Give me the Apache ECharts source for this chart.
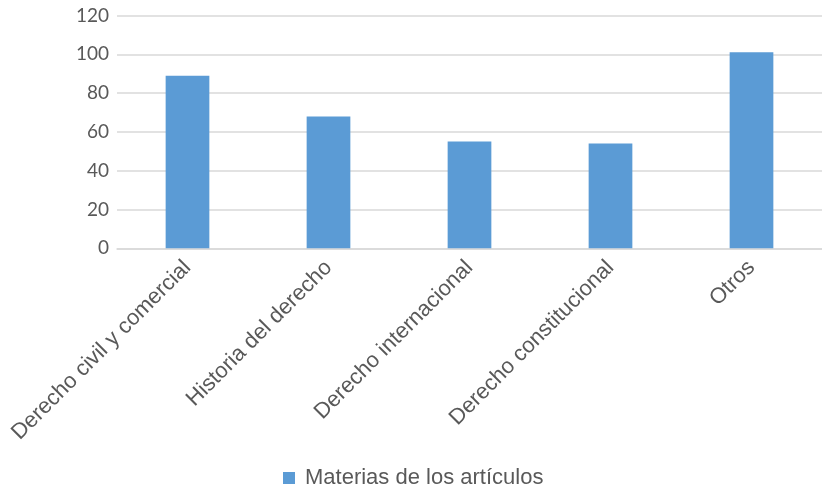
<!DOCTYPE html>
<html><head><meta charset="utf-8">
<script src="https://cdn.jsdelivr.net/npm/echarts@6/dist/echarts.min.js"></script>
<style>html,body{margin:0;padding:0;background:#fff}#c{width:822px;height:487px}</style>
</head><body><div id="c"></div>
<script>
const categories = ["Derecho civil y comercial", "Historia del derecho", "Derecho internacional", "Derecho constitucional", "Otros"];
const values = [89, 68, 55, 54, 101];
const seriesName = "Materias de los artículos";
const yTicks = {min: 0, max: 120, interval: 20};

const chart = echarts.init(document.getElementById('c'));
chart.setOption({
  animation: false,
  grid: {left: 117, right: -3, top: 15.5, bottom: 238.7, containLabel: false},
  legend: {
    top: 462, left: 278,
    itemWidth: 12, itemHeight: 12, itemGap: 10,
    icon: 'rect',
    textStyle: {color: '#595959', fontSize: 22, fontFamily: 'Liberation Sans', padding: [0, 0, 0, 5]},
    data: [seriesName]
  },
  xAxis: {
    type: 'category', data: categories,
    axisLine: {show: true, lineStyle: {color: '#d9d9d9', width: 1.5}},
    axisTick: {show: false},
    axisLabel: {rotate: 45, interval: 0, color: '#595959', fontSize: 22, fontFamily: 'Liberation Sans', margin: 16}
  },
  yAxis: {
    type: 'value', min: yTicks.min, max: yTicks.max, interval: yTicks.interval,
    axisLine: {show: false}, axisTick: {show: false},
    splitLine: {lineStyle: {color: '#d9d9d9', width: 1.5}},
    axisLabel: {color: '#595959', fontSize: 19, fontFamily: 'Lato', margin: 8}
  },
  series: [{
    name: seriesName, type: 'bar', data: values,
    barWidth: '31%',
    itemStyle: {color: '#5b9bd5'}
  }]
});
</script></body></html>
